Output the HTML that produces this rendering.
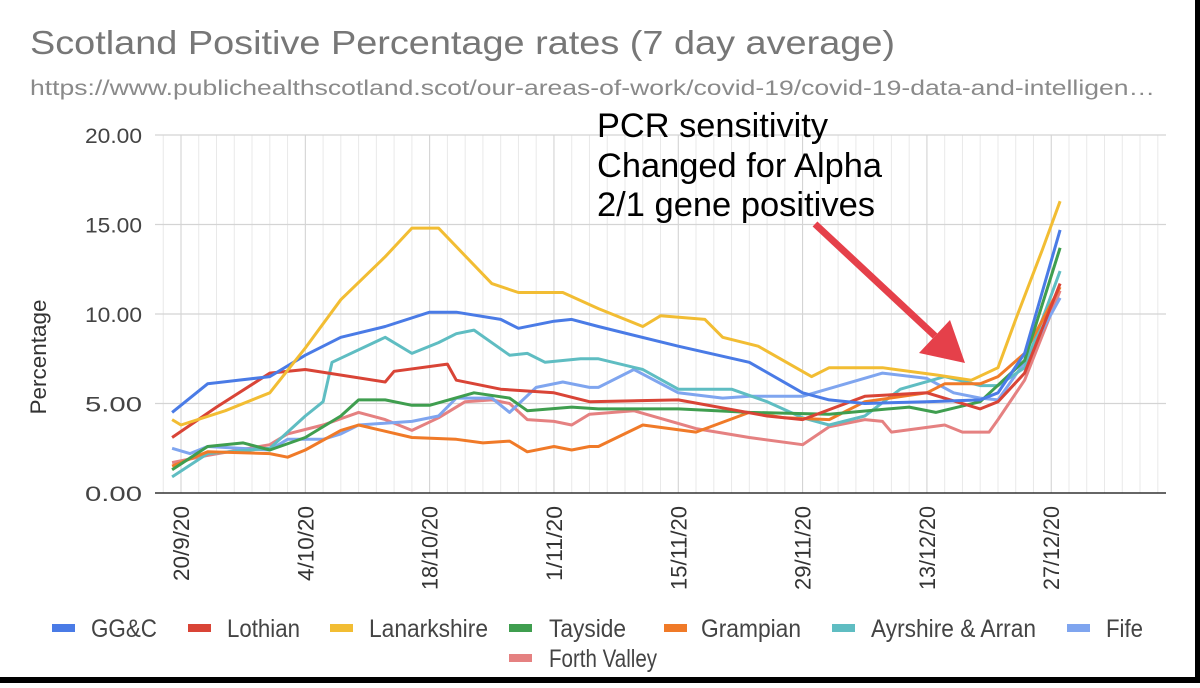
<!DOCTYPE html>
<html><head><meta charset="utf-8"><style>
body{margin:0;width:1200px;height:683px;overflow:hidden;background:#fff;font-family:"Liberation Sans",sans-serif;}
</style></head><body>
<svg width="1200" height="683" xmlns="http://www.w3.org/2000/svg">
<text x="30" y="54" font-size="33" fill="#777" textLength="865" lengthAdjust="spacingAndGlyphs">Scotland Positive Percentage rates (7 day average)</text>
<text x="30" y="95" font-size="21" fill="#8a8a8a" textLength="1125" lengthAdjust="spacingAndGlyphs">https://www.publichealthscotland.scot/our-areas-of-work/covid-19/covid-19-data-and-intelligen…</text>
<g id="grid"></g>
<g id="yt"></g>
<g id="xt"></g>
<text transform="translate(46,357) rotate(-90)" text-anchor="middle" font-size="22" fill="#333" textLength="115" lengthAdjust="spacingAndGlyphs">Percentage</text>
<g id="lines"></g>
<g id="legend"></g>
<g font-size="34" fill="#000">
<text x="597" y="137" textLength="231" lengthAdjust="spacingAndGlyphs">PCR sensitivity</text>
<text x="597" y="177" textLength="285" lengthAdjust="spacingAndGlyphs">Changed for Alpha</text>
<text x="597" y="216" textLength="278" lengthAdjust="spacingAndGlyphs">2/1 gene positives</text>
</g>
<g>
<line x1="815" y1="224" x2="935" y2="336" stroke="#e5404a" stroke-width="7"/>
<polygon points="965,363 919,353 950,320" fill="#e5404a"/>
</g>
<rect x="0" y="677" width="1200" height="6" fill="#000"/>
<rect x="1195" y="0" width="5" height="683" fill="#000"/>
</svg>
<script>
const tickLabels=["20/9/20","4/10/20","18/10/20","1/11/20","15/11/20","29/11/20","13/12/20","27/12/20"];
const tickDays=[0,14,28,42,56,70,84,98];
const yTicks=[0,5,10,15,20];
const seriesNames=["GG&C","Lothian","Lanarkshire","Tayside","Grampian","Ayrshire & Arran","Fife","Forth Valley"];
const seriesColors=["#4a7be6","#d94436","#f2bd33","#3f9e4f","#f07a28","#5fbdc2","#7fa5ef","#e58181"];
const ggcDays=[-1,3,10,14,18,23,28,31,36,38,42,44,47,56,64,70,73,77,84,90,92,95,99];
const ggcVals=[4.5,6.1,6.5,7.7,8.7,9.3,10.1,10.1,9.7,9.2,9.6,9.7,9.3,8.2,7.3,5.6,5.2,5.0,5.1,5.2,5.6,7.8,14.7];
const lothDays=[-1,4,10,14,23,24,30,31,36,42,46,56,66,70,77,84,90,92,95,99];
const lothVals=[3.1,4.8,6.7,6.9,6.2,6.8,7.2,6.3,5.8,5.6,5.1,5.2,4.3,4.1,5.4,5.6,4.7,5.1,6.7,11.7];
const lanDays=[-1,0,5,10,14,18,23,26,29,35,38,43,47,52,54,59,61,65,71,73,79,85,89,92,94,97,99];
const lanVals=[4.1,3.8,4.6,5.6,8.1,10.8,13.2,14.8,14.8,11.7,11.2,11.2,10.3,9.3,9.9,9.7,8.7,8.2,6.5,7.0,7.0,6.6,6.3,7.0,9.7,13.6,16.3];
const tayDays=[-1,3,7,10,14,18,20,23,26,28,33,37,39,44,47,56,64,73,82,85,90,95,99];
const tayVals=[1.3,2.6,2.8,2.4,3.1,4.3,5.2,5.2,4.9,4.9,5.6,5.3,4.6,4.8,4.7,4.7,4.5,4.4,4.8,4.5,5.1,7.4,13.7];
const gramDays=[-1,3,10,12,14,18,20,26,31,34,37,39,42,44,46,47,52,58,64,68,73,77,84,86,90,92,95,99];
const gramVals=[1.5,2.3,2.2,2.0,2.4,3.5,3.8,3.1,3.0,2.8,2.9,2.3,2.6,2.4,2.6,2.6,3.8,3.4,4.5,4.2,4.1,5.1,5.6,6.1,6.1,6.5,7.8,11.5];
const ayrDays=[-1,3,10,14,16,17,23,26,29,31,33,37,39,41,45,47,52,56,62,66,70,73,77,81,86,90,92,95,99];
const ayrVals=[0.9,2.2,2.5,4.3,5.1,7.3,8.7,7.8,8.4,8.9,9.1,7.7,7.8,7.3,7.5,7.5,6.9,5.8,5.8,5.1,4.2,3.8,4.3,5.8,6.5,6.0,6.0,7.0,12.4];
const fifeDays=[-1,1,3,10,12,16,18,20,26,29,31,35,37,40,43,46,47,51,56,61,64,70,79,84,87,90,92,95,99];
const fifeVals=[2.5,2.2,2.6,2.4,3.0,3.0,3.3,3.8,4.0,4.3,5.3,5.3,4.5,5.9,6.2,5.9,5.9,6.9,5.6,5.3,5.4,5.4,6.7,6.4,5.6,5.3,5.2,7.3,10.9];
const fvDays=[-1,3,10,12,16,20,23,26,29,32,35,37,39,42,44,46,51,58,64,70,73,77,79,80,86,88,91,92,95,99];
const fvVals=[1.7,2.1,2.7,3.3,3.8,4.5,4.1,3.5,4.2,5.1,5.2,5.0,4.1,4.0,3.8,4.4,4.6,3.6,3.1,2.7,3.7,4.1,4.0,3.4,3.8,3.4,3.4,4.1,6.3,11.3];
const allDays=[ggcDays,lothDays,lanDays,tayDays,gramDays,ayrDays,fifeDays,fvDays];
const allVals=[ggcVals,lothVals,lanVals,tayVals,gramVals,ayrVals,fifeVals,fvVals];
const NS="http://www.w3.org/2000/svg";
const X0=155,X1=1166,Y0=493,Y1=135;
const xScale=d=>181+d*8.88;
const yScale=v=>Y0-(v/20)*(Y0-Y1);
function mk(tag,attrs,parent){const e=document.createElementNS(NS,tag);for(const k in attrs)e.setAttribute(k,attrs[k]);parent.appendChild(e);return e;}
const grid=document.getElementById('grid');
for(let d=-2;xScale(d)<X1;d+=2){
  const l=mk('line',{x1:xScale(d),x2:xScale(d),y1:Y1,y2:Y0,stroke:tickDays.includes(d)?'#cfcfcf':'#e9e9e9','stroke-width':1},grid);
  
  
}
const yt=document.getElementById('yt');
yTicks.forEach(v=>{
  const l=mk('line',{x1:X0,x2:X1,y1:yScale(v),y2:yScale(v),stroke:v===0?'#333':'#d4d4d4','stroke-width':v===0?1.5:1.2},grid);
  
  
  const t=mk('text',{x:85,y:yScale(v)+8,'font-size':21,fill:'#444',textLength:57,lengthAdjust:'spacingAndGlyphs'},yt);
  t.textContent=v.toFixed(2);
  
  
});
const xt=document.getElementById('xt');
tickDays.forEach((d,i)=>{
  const lbl=tickLabels[i];
  const len=lbl.length===7?75:(lbl.length===6?68:84);
  const t=mk('text',{transform:`translate(${xScale(d)+8},506) rotate(-90)`,'text-anchor':'end','font-size':22,fill:'#333',textLength:len,lengthAdjust:'spacingAndGlyphs'},xt);
  t.textContent=lbl;
  
  
});
const lines=document.getElementById('lines');
[7,6,5,4,3,1,0,2].forEach(i=>{
  const pts=allDays[i].map((d,j)=>xScale(d).toFixed(1)+','+yScale(allVals[i][j]).toFixed(1)).join(' ');
  const p=mk('polyline',{points:pts,fill:'none',stroke:seriesColors[i],'stroke-width':3,'stroke-linejoin':'round'},lines);
  
  
});
const legend=document.getElementById('legend');
const legSqX=[52,188,330,509,664,832,1067,509];
const legTxX=[91,227,369,549,701,871,1106,549];
const legTxW=[66,73,119,77,100,165,37,108];
const legY=[628,628,628,628,628,628,628,658];
seriesNames.forEach((n,i)=>{
  const g=mk('g',{},legend);
  
  
  mk('rect',{x:legSqX[i],y:legY[i]-4,width:23,height:8,fill:seriesColors[i]},g);
  const t=mk('text',{x:legTxX[i],y:legY[i]+9,'font-size':25,fill:'#444',textLength:legTxW[i],lengthAdjust:'spacingAndGlyphs'},g);
  t.textContent=n;
});
</script>
</body></html>
